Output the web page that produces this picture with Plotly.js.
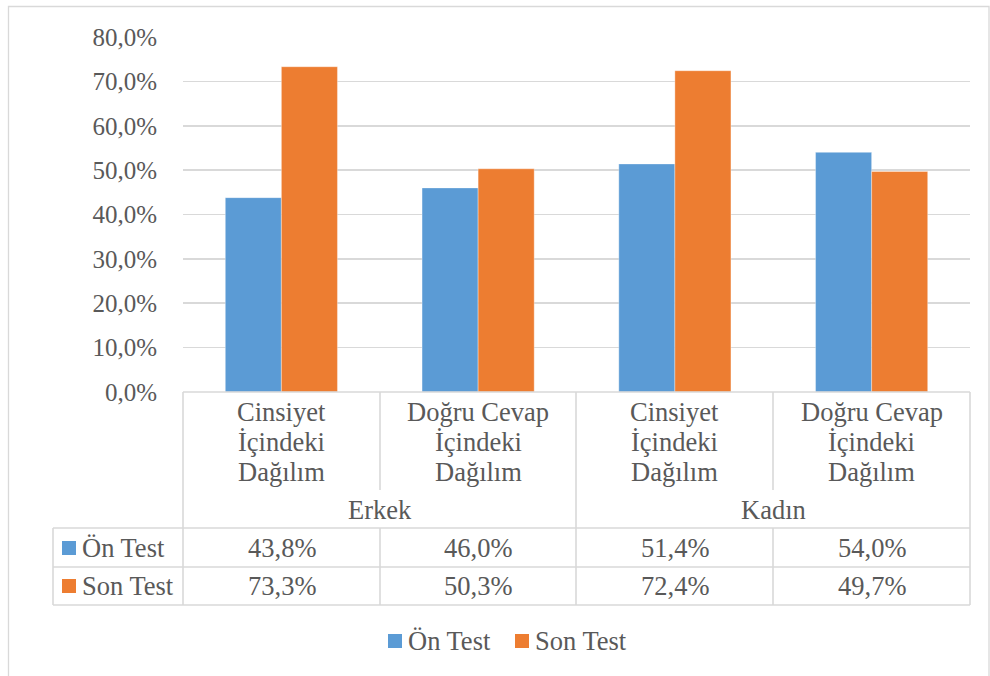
<!DOCTYPE html>
<html>
<head>
<meta charset="utf-8">
<script src="https://cdn.plot.ly/plotly-3.0.1.min.js"></script>
<style>html,body{margin:0;padding:0;background:#fff;}#chart{width:990px;height:676px;}</style>
</head>
<body>
<div id="chart"></div>
<script>
// ---- data ----
var groups = ["Erkek", "Kadın"];
var categoryLines = [
  ["Cinsiyet", "İçindeki", "Dağılım"],
  ["Doğru Cevap", "İçindeki", "Dağılım"],
  ["Cinsiyet", "İçindeki", "Dağılım"],
  ["Doğru Cevap", "İçindeki", "Dağılım"]
];
var categoryGroup = [0, 0, 1, 1];
var seriesNames = ["Ön Test", "Son Test"];
var onTest  = [0.438, 0.460, 0.514, 0.540];
var sonTest = [0.733, 0.503, 0.724, 0.497];

// ---- style ----
var FONT = "'Liberation Serif', 'Times New Roman', 'DejaVu Serif', serif";
var TXT = "#595959";
var GRID = "#d9d9d9";
var BLUE = "#5b9bd5", ORANGE = "#ed7d31";
var colors = [BLUE, ORANGE];
var FS_TICK = 25;
var FS = 26.5;

var L = 183, R = 20, T = 37, B = 284, W = 990, H = 676;
var pw = W - L - R, ph = H - T - B;
function px(p) { return (p - L) / pw; }
function py(p) { return (H - B - p) / ph; }

var xIdx = categoryLines.map(function (_, i) { return i; });
var series = [onTest, sonTest];

var traces = series.map(function (vals, s) {
  return {
    type: "bar",
    name: seriesNames[s],
    x: xIdx,
    y: vals,
    marker: { color: colors[s], line: { color: "rgba(255,255,255,0.35)", width: 1 } },
    hoverinfo: "skip",
    showlegend: false
  };
});

var shapes = [];
function line(x0, y0, x1, y1) {
  shapes.push({ type: "line", xref: "paper", yref: "paper",
    x0: px(x0), y0: py(y0), x1: px(x1), y1: py(y1),
    line: { color: GRID, width: 1.6 }, layer: "above" });
}
function square(cx, cy, color) {
  shapes.push({ type: "rect", xref: "paper", yref: "paper",
    x0: px(cx - 7), x1: px(cx + 7), y0: py(cy + 7), y1: py(cy - 7),
    fillcolor: color, line: { width: 0 }, layer: "above" });
}
// outer chart border
shapes.push({ type: "rect", xref: "paper", yref: "paper",
  x0: px(8.5), y0: py(6.5), x1: px(989), y1: py(720),
  line: { color: GRID, width: 1.3 }, layer: "below" });

var colX = [183, 380, 576, 773, 970];
var yTop = 392, yCatBottom = 490, yGroupBottom = 528, yRow1 = 567, yRow2 = 605, xTableLeft = 53;
line(183, yTop, 970, yTop);
line(xTableLeft, yGroupBottom, 970, yGroupBottom);
line(xTableLeft, yRow1, 970, yRow1);
line(xTableLeft, yRow2, 970, yRow2);
line(xTableLeft, yGroupBottom, xTableLeft, yRow2);
colX.forEach(function (cx, i) {
  var isGroupEdge = (i === 0 || i === 2 || i === 4);
  if (isGroupEdge) {
    line(cx, yTop, cx, yRow2);
  } else {
    line(cx, yTop, cx, yCatBottom);
    line(cx, yGroupBottom, cx, yRow2);
  }
});

var annotations = [];
function txt(text, xp, yp, anchor) {
  annotations.push({ xref: "paper", yref: "paper", x: px(xp), y: py(yp),
    text: text, showarrow: false, xanchor: anchor || "center", yanchor: "middle",
    font: { family: FONT, size: FS, color: TXT } });
}
// category labels
var lineY = [412, 442, 472];
categoryLines.forEach(function (lines, i) {
  var cx = (colX[i] + colX[i + 1]) / 2;
  lines.forEach(function (t, k) { txt(t, cx, lineY[k]); });
});
// group labels
groups.forEach(function (g, gi) {
  var idx = [];
  categoryGroup.forEach(function (v, i) { if (v === gi) idx.push(i); });
  var cx = (colX[idx[0]] + colX[idx[idx.length - 1] + 1]) / 2;
  txt(g, cx, 510);
});
// data rows
function fmt(v) { return (v * 100).toFixed(1).replace(".", ",") + "%"; }
var rowY = [548, 586];
series.forEach(function (vals, s) {
  square(69, rowY[s], colors[s]);
  txt(seriesNames[s], 80, rowY[s], "left");
  vals.forEach(function (v, i) {
    txt(fmt(v), (colX[i] + colX[i + 1]) / 2, rowY[s]);
  });
});
// bottom legend
var legX = [395, 522];
seriesNames.forEach(function (n, s) {
  square(legX[s], 641, colors[s]);
  txt(n, legX[s] + 11, 641, "left");
});

var layout = {
  width: W, height: H,
  margin: { l: L, r: R, t: T, b: B, pad: 0 },
  paper_bgcolor: "#ffffff", plot_bgcolor: "#ffffff",
  separators: ",.",
  font: { family: FONT, size: FS, color: TXT },
  barmode: "group", bargap: 0.43, bargroupgap: 0,
  xaxis: { range: [-0.5, 3.5], showticklabels: false, showgrid: false, zeroline: false,
    showline: false, ticks: "", fixedrange: true },
  yaxis: { range: [0, 0.8], dtick: 0.1, tick0: 0, tickformat: ".1%", showgrid: true,
    gridcolor: GRID, gridwidth: 1.6, zeroline: false, showline: false, ticks: "",
    ticklabelstandoff: 25, tickfont: { family: FONT, size: FS_TICK, color: TXT }, fixedrange: true },
  showlegend: false,
  shapes: shapes,
  annotations: annotations
};

Plotly.newPlot("chart", traces, layout, { displayModeBar: false, staticPlot: true });
</script>
</body>
</html>
